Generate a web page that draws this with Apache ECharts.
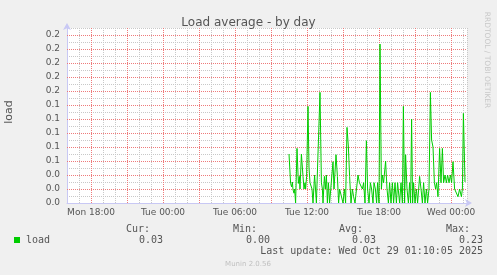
<!DOCTYPE html>
<html><head><meta charset="utf-8">
<script src="https://cdn.jsdelivr.net/npm/echarts@6/dist/echarts.min.js"></script>
<style>html,body{margin:0;padding:0;background:#f0f0f0;}#c{width:497px;height:275px;}</style>
</head><body><div id="c"></div>
<script>
// minutes after Tue 00:00 (samples)
const sampleMinutes = [630,638,643,647,650,655,658,663,670,677,682,685,692,700,705,710,713,718,725,730,735,740,745,750,758,767,775,785,792,797,800,807,812,817,822,827,833,842,850,855,865,872,878,883,892,900,907,913,920,927,933,940,947,953,960,967,975,982,988,997,1003,1010,1017,1023,1030,1037,1043,1050,1055,1062,1068,1073,1080,1085,1092,1097,1103,1113,1120,1127,1133,1140,1147,1153,1160,1167,1173,1183,1190,1197,1202,1208,1213,1220,1227,1233,1238,1243,1248,1253,1260,1267,1273,1283,1290,1297,1303,1310,1317,1323,1330,1337,1343,1350,1357,1363,1368,1375,1383,1390,1397,1403,1410,1417,1423,1430,1437,1443,1450,1458,1467,1475,1483,1492,1497,1502,1510];
const loadValues = [0.07,0.028,0.023,0.03,0.019,0.014,0.02,0,0.078,0.028,0.038,0.02,0.07,0.038,0.02,0.029,0.02,0.038,0.138,0.05,0.029,0.029,0.02,0,0.04,0,0,0.158,0.029,0.02,0,0.038,0.02,0.04,0,0.029,0,0,0.059,0.02,0.069,0.038,0,0.02,0.02,0,0.02,0,0.108,0.08,0.038,0,0.02,0.009,0,0,0.04,0.029,0.029,0.02,0.029,0,0.089,0.02,0,0.029,0.02,0,0.029,0.02,0,0.029,0,0.227,0.02,0.04,0.029,0.06,0.02,0,0.029,0,0.029,0,0.029,0,0.029,0,0.029,0,0.138,0,0.069,0.02,0,0.029,0,0.12,0,0.029,0,0.02,0,0.038,0.02,0,0.029,0,0.02,0,0.02,0.158,0.09,0.08,0.029,0.02,0.029,0.009,0.078,0.029,0.078,0.029,0.04,0.029,0.04,0.029,0.04,0.029,0.059,0.02,0.02,0.009,0.02,0.009,0.02,0.128,0.03];
// x axis: hours after Mon 00:00
const xTickHours = [18,24,30,36,42,48];
const xTickLabels = ['Mon 18:00','Tue 00:00','Tue 06:00','Tue 12:00','Tue 18:00','Wed 00:00'];
const statNames = ['Cur:','Min:','Avg:','Max:'];
const statValues = ['0.03','0.00','0.03','0.23'];
const seriesName = 'load';
const titleText = 'Load average - by day';
const lastUpdate = 'Last update: Wed Oct 29 01:10:05 2025';

const GREY = '#c8c8c8', RED = '#ee7a7a', AXIS = '#c8c8f4', TXT = '#555';
const data = sampleMinutes.map((m, i) => [24 + m / 60, loadValues[i]]);
const X_MIN = 16, X_MAX = 16 + 400 / 12;

const chart = echarts.init(document.getElementById('c'), null, {renderer: 'canvas'});
const statX = [150, 257, 363, 470];
const valX = [163, 270, 376, 483];
const graphics = [
  {type:'text', x:9, y:112, rotation:Math.PI/2, style:{text:'load', fill:TXT, font:'11px "DejaVu Sans"', textAlign:'center', textVerticalAlign:'middle'}},
  {type:'text', x:487, y:60, rotation:-Math.PI/2, style:{text:'RRDTOOL / TOBI OETIKER', fill:'#c8c8c8', font:'7.5px "DejaVu Sans"', textAlign:'center', textVerticalAlign:'middle'}},
  {type:'rect', shape:{x:14, y:237, width:6, height:6}, style:{fill:'#00cc00'}},
  {type:'text', x:26, y:240, style:{text:seriesName, fill:TXT, font:'10px "DejaVu Sans Mono"', textAlign:'left', textVerticalAlign:'middle'}},
  {type:'text', x:483, y:251.5, style:{text:lastUpdate, fill:TXT, font:'10px "DejaVu Sans Mono"', textAlign:'right', textVerticalAlign:'middle'}},
  {type:'text', x:248, y:264.5, style:{text:'Munin 2.0.56', fill:'#c0c0c0', font:'7px "DejaVu Sans"', textAlign:'center', textVerticalAlign:'middle'}}
];
statNames.forEach((s, i) => {
  graphics.push({type:'text', x:statX[i], y:229, style:{text:s, fill:TXT, font:'10px "DejaVu Sans Mono"', textAlign:'right', textVerticalAlign:'middle'}});
  graphics.push({type:'text', x:valX[i], y:240, style:{text:statValues[i], fill:TXT, font:'10px "DejaVu Sans Mono"', textAlign:'right', textVerticalAlign:'middle'}});
});

const hidden = {axisLine:{show:false}, axisTick:{show:false}, axisLabel:{show:false}};

chart.setOption({
  animation: false,
  backgroundColor: '#f0f0f0',
  title: {text: titleText, left: 'center', top: 12, textStyle: {fontFamily: 'DejaVu Sans', fontSize: 12, fontWeight: 'normal', color: TXT}},
  grid: [
    {left: 67, top: 28, width: 400, height: 175, containLabel: false, show: true, backgroundColor: '#fff', borderWidth: 0},
    // one hour wider to the left so that 3-hour major lines count from a multiple of 3
    {left: 55, top: 28, width: 412, height: 175, containLabel: false, show: false}
  ],
  xAxis: [{
    gridIndex: 0, type: 'value', min: X_MIN, max: X_MAX, interval: 1, z: 0,
    axisLine: {show: true, lineStyle: {color: AXIS, width: 1}, symbol: ['none', 'arrow'], symbolSize: [6, 7], symbolOffset: [0, 5]},
    axisTick: {show: false},
    axisLabel: {margin: 5, color: TXT, fontFamily: 'DejaVu Sans', fontSize: 9,
      formatter: v => { const k = xTickHours.indexOf(Math.round(v)); return (k >= 0 && Math.abs(v - Math.round(v)) < 1e-6) ? xTickLabels[k] : ''; },
      showMaxLabel: false},
    splitLine: {show: true, lineStyle: {color: GREY, type: [1, 1], width: 1}}
  }, Object.assign({
    gridIndex: 1, type: 'value', min: X_MIN - 1, max: X_MAX, interval: 3, z: 1,
    splitLine: {show: true, showMinLine: false, showMaxLine: false, lineStyle: {color: RED, type: [1, 1], width: 1}}
  }, hidden)],
  yAxis: [{
    gridIndex: 0, type: 'value', min: 0, max: 0.25, interval: 0.01, z: 0,
    axisLine: {show: true, lineStyle: {color: AXIS, width: 1}, symbol: ['none', 'arrow'], symbolSize: [6, 7], symbolOffset: [0, 5]},
    axisTick: {show: false},
    axisLabel: {margin: 7, color: TXT, fontFamily: 'DejaVu Sans', fontSize: 9,
      formatter: v => { const k = Math.round(v * 100); return (k % 2 === 0 && k <= 24) ? (k / 100).toFixed(1) : ''; }},
    splitLine: {show: true, lineStyle: {color: GREY, type: [1, 1], width: 1}}
  }, Object.assign({
    gridIndex: 0, type: 'value', min: 0, max: 0.25, interval: 0.02, z: 1,
    splitLine: {show: true, showMinLine: false, showMaxLine: false, lineStyle: {color: RED, type: [1, 1], width: 1}}
  }, hidden), Object.assign({
    gridIndex: 1, type: 'value', min: 0, max: 0.25, splitLine: {show: false}
  }, hidden)],
  series: [{
    name: seriesName, type: 'line', data: data, xAxisIndex: 0, yAxisIndex: 0,
    showSymbol: false, symbol: 'none', z: 3,
    lineStyle: {color: '#00cc00', width: 1}, itemStyle: {color: '#00cc00'}
  }],
  graphic: graphics
});
</script></body></html>
